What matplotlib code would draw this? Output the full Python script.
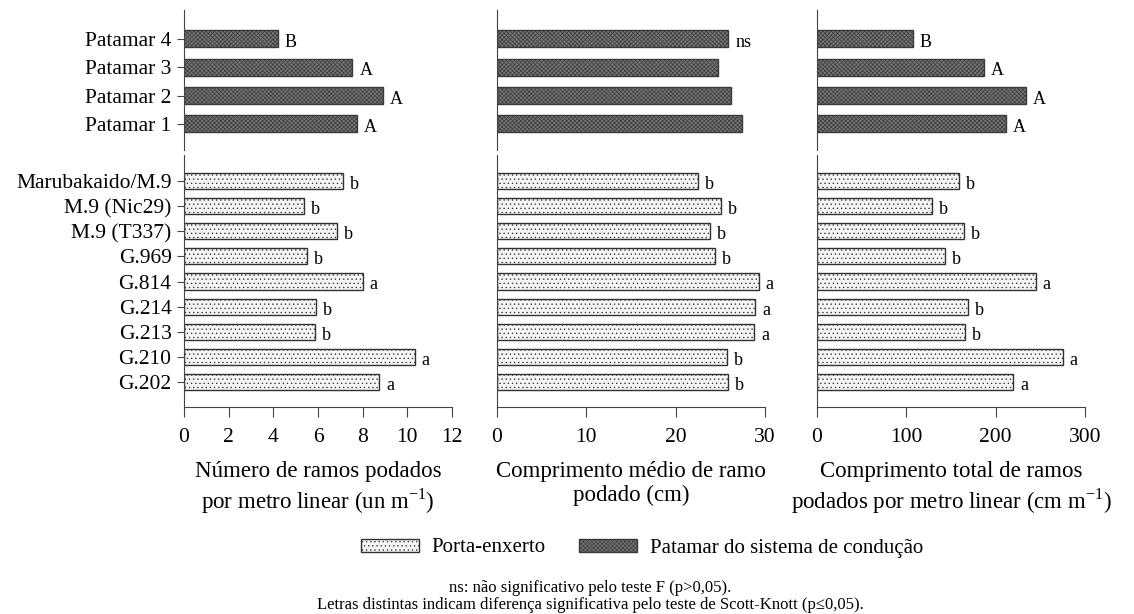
import numpy as np
import matplotlib.pyplot as plt
from matplotlib.patches import Patch

plt.rcParams['font.family'] = ['Liberation Serif', 'DejaVu Serif']
plt.rcParams['mathtext.fontset'] = 'custom'
plt.rcParams['mathtext.rm'] = 'Liberation Serif'
plt.rcParams['hatch.linewidth'] = 0.45

# categories (bottom to top)
patamares = ['Patamar 1', 'Patamar 2', 'Patamar 3', 'Patamar 4']
porta_enxertos = ['G.202', 'G.210', 'G.213', 'G.214', 'G.814', 'G.969',
                  'M.9 (T337)', 'M.9 (Nic29)', 'Marubakaido/M.9']

# numero de ramos podados por metro linear
num_pat = [7.75, 8.90, 7.54, 4.19]
num_porta = [8.74, 10.33, 5.86, 5.91, 8.00, 5.50, 6.85, 5.37, 7.14]
num_pat_let = ['A', 'A', 'A', 'B']
num_porta_let = ['a', 'a', 'b', 'b', 'a', 'b', 'b', 'b', 'b']

# comprimento medio de ramo podado
med_pat = [27.4, 26.2, 24.7, 25.9]
med_porta = [25.9, 25.8, 28.8, 28.9, 29.3, 24.4, 23.8, 25.1, 22.45]
med_pat_let = ['', '', '', 'ns']
med_porta_let = ['b', 'b', 'a', 'a', 'a', 'b', 'b', 'b', 'b']

# comprimento total de ramos podados
tot_pat = [211.4, 233.8, 186.7, 107.0]
tot_porta = [219.6, 275.0, 165.4, 169.5, 244.7, 143.3, 164.6, 129.0, 159.0]
tot_pat_let = ['A', 'A', 'A', 'B']
tot_porta_let = ['a', 'a', 'b', 'b', 'a', 'b', 'b', 'b', 'b']

xlabels = ['Número de ramos podados\npor metro linear (un m$^{\\mathregular{-1}}$)',
           'Comprimento médio de ramo\npodado (cm)',
           'Comprimento total de ramos\npodados por metro linear (cm m$^{\\mathregular{-1}}$)']
xlims = [(0, 12), (0, 30), (0, 300)]
xticks = [np.arange(0, 13, 2), np.arange(0, 31, 10), np.arange(0, 301, 100)]

porta_style = dict(facecolor='#f5f5f5', edgecolor='#333333', hatch='....', linewidth=1.0)
pat_style = dict(facecolor='#747474', edgecolor='#3a3a3a', hatch='xxxxxxxx', linewidth=1.0)

W, H = 1134, 614
fig = plt.figure(figsize=(W / 100, H / 100), dpi=100)

lefts = [184, 497, 817]
width = 268
top_box = (10, 150)
bot_box = (155, 407)

panels = [
    (num_pat, num_porta, num_pat_let, num_porta_let),
    (med_pat, med_porta, med_pat_let, med_porta_let),
    (tot_pat, tot_porta, tot_pat_let, tot_porta_let),
]

for i, (vp, vr, lp, lr) in enumerate(panels):
    l = lefts[i] / W
    w = width / W
    ax_t = fig.add_axes([l, 1 - top_box[1] / H, w, (top_box[1] - top_box[0]) / H])
    ax_b = fig.add_axes([l, 1 - bot_box[1] / H, w, (bot_box[1] - bot_box[0]) / H])

    yt = np.arange(len(patamares))
    ax_t.barh(yt, vp, height=0.6, **pat_style)
    ax_t.set_ylim(-0.92, 4.02)
    yb = np.arange(len(porta_enxertos))
    ax_b.barh(yb, vr, height=0.64, **porta_style)
    ax_b.set_ylim(-1.0, 9.04)

    for ax, ys, vals, lets in [(ax_t, yt, vp, lp), (ax_b, yb, vr, lr)]:
        ax.set_xlim(*xlims[i])
        for s in ['top', 'right']:
            ax.spines[s].set_visible(False)
        ax.spines['left'].set_color('#444444')
        ax.spines['bottom'].set_color('#444444')
        ax.tick_params(axis='x', length=7, color='#444444', labelsize=15.5, pad=8)
        if i == 0:
            ax.set_yticks(ys)
            ax.set_yticklabels(patamares if ax is ax_t else porta_enxertos)
            ax.tick_params(axis='y', length=5, color='#444444', labelsize=15.5, pad=4)
        else:
            ax.set_yticks([])
        for y, v, t in zip(ys, vals, lets):
            if t:
                ax.annotate(t, (v, y), xytext=(5, -2.5), textcoords='offset points',
                            ha='left', va='center', fontsize=13)

    ax_t.spines['bottom'].set_visible(False)
    ax_t.set_xticks([])
    ax_b.set_xticks(xticks[i])
    ax_b.set_xlabel(xlabels[i], fontsize=16.5, labelpad=10, linespacing=1.2)

handles = [Patch(label='Porta-enxerto', **porta_style),
           Patch(label='Patamar do sistema de condução', **pat_style)]
fig.legend(handles=handles, loc='center', bbox_to_anchor=(642 / W, 1 - 548 / H),
           ncol=2, frameon=False, fontsize=15, handlelength=2.8, handleheight=0.6,
           columnspacing=1.6, handletextpad=0.6)

fig.text(590 / W, 1 - 588 / H, 'ns: não significativo pelo teste F (p>0,05).',
         ha='center', va='center', fontsize=12)
fig.text(590 / W, 1 - 605 / H,
         'Letras distintas indicam diferença significativa pelo teste de Scott-Knott (p≤0,05).',
         ha='center', va='center', fontsize=12)

fig.savefig('out.png', dpi=100)
